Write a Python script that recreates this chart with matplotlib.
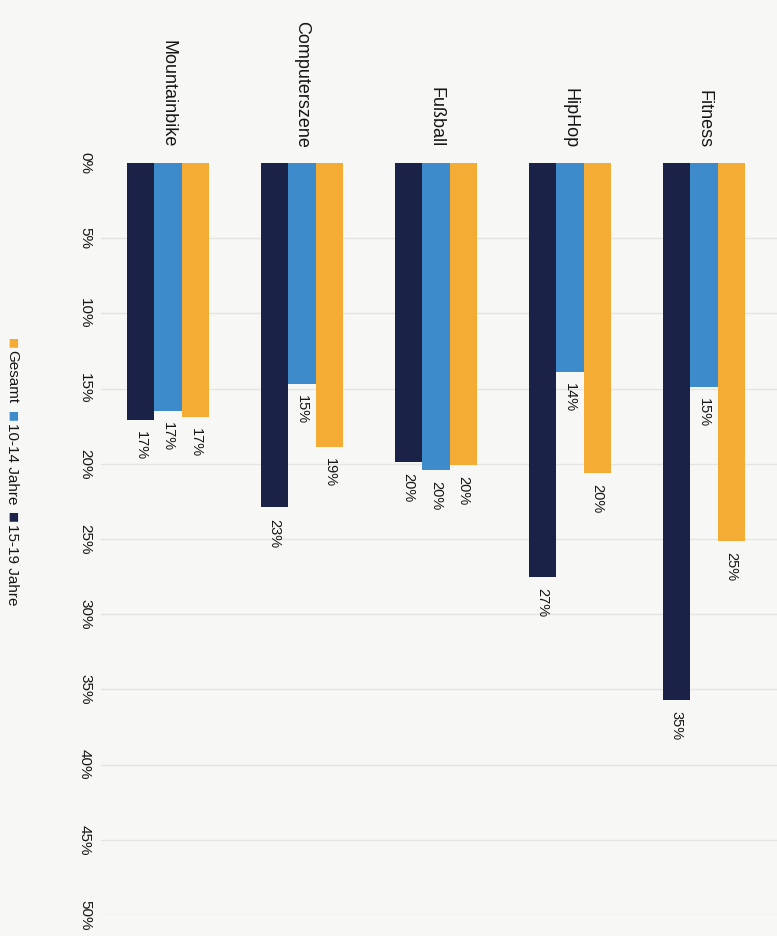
import matplotlib
matplotlib.use("Agg")
import matplotlib.pyplot as plt
from matplotlib import font_manager
import matplotlib.transforms as mtransforms

# ---- data ----
categories = ["Mountainbike", "Computerszene", "Fußball", "HipHop", "Fitness"]
series_names = ["15-19 Jahre", "10-14 Jahre", "Gesamt"]
v_15_19 = [17.1, 22.9, 19.9, 27.5, 35.7]
v_10_14 = [16.5, 14.7, 20.4, 13.9, 14.9]
v_gesamt = [16.9, 18.9, 20.1, 20.6, 25.1]
labels_15_19 = ["17%", "23%", "20%", "27%", "35%"]
labels_10_14 = ["17%", "15%", "20%", "14%", "15%"]
labels_gesamt = ["17%", "19%", "20%", "20%", "25%"]
ticks = [0, 5, 10, 15, 20, 25, 30, 35, 40, 45, 50]
tick_labels = [f"{t}%" for t in ticks]
legend_order = ["Gesamt", "10-14 Jahre", "15-19 Jahre"]

colors = {"15-19 Jahre": "#1a2248", "10-14 Jahre": "#3d8bca", "Gesamt": "#f5ac35"}

available = {f.name for f in font_manager.fontManager.ttflist}
fams = [f for f in ["Liberation Sans Narrow", "Liberation Sans", "DejaVu Sans"] if f in available]
narrow = "Liberation Sans Narrow" in available
plt.rcParams["font.family"] = fams

W, H = 777, 936
fig = plt.figure(figsize=(W / 100, H / 100), dpi=100)
bg = "#f7f7f5"
fig.patch.set_facecolor(bg)
txt_color = "#161616"

# axes: y 0% at px 163 from top, 50% at px 915; x groups centered 168..704
top_px, bot_px = 163, 915
left_px, right_px = 101, 777
ax = fig.add_axes([left_px / W, (H - bot_px) / H, (right_px - left_px) / W, (bot_px - top_px) / H])
ax.set_facecolor(bg)
ax.set_ylim(50, 0)
ax.set_xlim(-0.5, -0.5 + (right_px - left_px) / 134.0)
for s in ax.spines.values():
    s.set_visible(False)
ax.set_xticks([])
ax.set_yticks([])

# gridlines
for t in ticks[1:]:
    ax.axhline(t, color="#e4e4e2", lw=1.0, zorder=0)

bw = 0.205
series = [("15-19 Jahre", v_15_19, labels_15_19, -bw),
          ("10-14 Jahre", v_10_14, labels_10_14, 0.0),
          ("Gesamt", v_gesamt, labels_gesamt, bw)]
xs = list(range(len(categories)))
fs_val = 12 if narrow else 10.5
for name, vals, labs, off in series:
    bx = [x + off for x in xs]
    ax.bar(bx, vals, width=bw, color=colors[name], zorder=2)
    for x, v, lab in zip(bx, vals, labs):
        ax.annotate(lab, (x, v), xytext=(0, -8), textcoords="offset points",
                    rotation=-90, rotation_mode="anchor", ha="left", va="center",
                    fontsize=fs_val, color=txt_color)

# category labels (end aligned just above the bars)
fs_cat = 15 if narrow else 13
for x, c in zip(xs, categories):
    ax.annotate(c, (x, 0), xytext=(0, 11), textcoords="offset points",
                rotation=-90, rotation_mode="anchor", ha="right", va="center",
                fontsize=fs_cat, color=txt_color)

# tick labels
fs_tick = 13 if narrow else 11
trans = mtransforms.blended_transform_factory(fig.transFigure, ax.transData)
for t, lab in zip(ticks, tick_labels):
    fig.text(85 / W, t, lab, transform=trans, rotation=-90, rotation_mode="anchor",
             ha="center", va="center", fontsize=fs_tick, color=txt_color)

# legend (rotated)
fs_leg = 13 if narrow else 11
y = 338
x_leg = 12
for name in legend_order:
    t1 = fig.text(x_leg / W, 1 - y / H, "■", rotation=-90, rotation_mode="anchor",
                  ha="left", va="center", fontsize=fs_leg * 0.75, color=colors[name],
                  family=["DejaVu Sans"])
    fig.canvas.draw()
    r = fig.canvas.get_renderer()
    bb = t1.get_window_extent(r)
    y += bb.height + 1
    t2 = fig.text(x_leg / W, 1 - y / H, name, rotation=-90, rotation_mode="anchor",
                  ha="left", va="center", fontsize=fs_leg, color=txt_color)
    bb2 = t2.get_window_extent(r)
    y += bb2.height + 8

fig.savefig("out.png", dpi=100, facecolor=bg)
